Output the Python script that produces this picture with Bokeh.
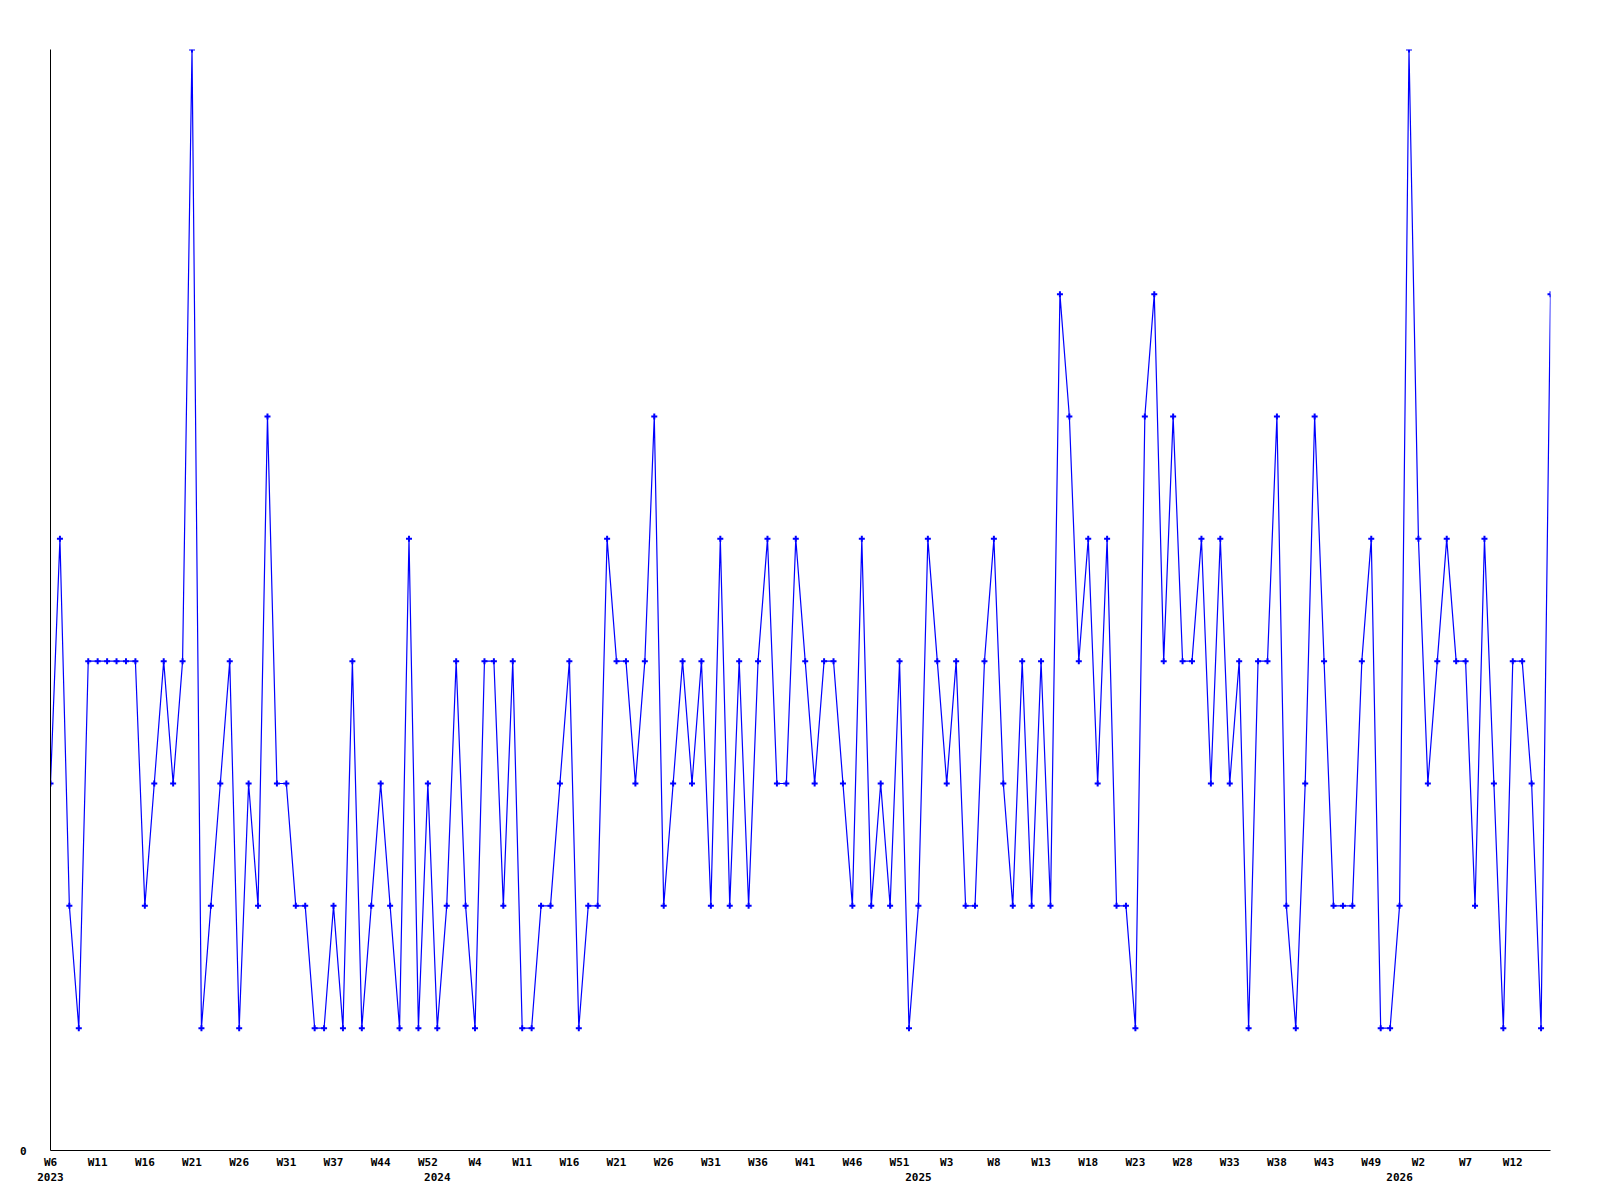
from bokeh.plotting import figure
from bokeh.models import Range1d, LinearAxis, FixedTicker
from bokeh.embed import file_html
from bokeh.resources import INLINE

values = [3, 5, 2, 1, 4, 4, 4, 4, 4, 4,
          2, 3, 4, 3, 4, 9, 1, 2, 3, 4,
          1, 3, 2, 6, 3, 3, 2, 2, 1, 1,
          2, 1, 4, 1, 2, 3, 2, 1, 5, 1,
          3, 1, 2, 4, 2, 1, 4, 4, 2, 4,
          1, 1, 2, 2, 3, 4, 1, 2, 2, 5,
          4, 4, 3, 4, 6, 2, 3, 4, 3, 4,
          2, 5, 2, 4, 2, 4, 5, 3, 3, 5,
          4, 3, 4, 4, 3, 2, 5, 2, 3, 2,
          4, 1, 2, 5, 4, 3, 4, 2, 2, 4,
          5, 3, 2, 4, 2, 4, 2, 7, 6, 4,
          5, 3, 5, 2, 2, 1, 6, 7, 4, 6,
          4, 4, 5, 3, 5, 3, 4, 1, 4, 4,
          6, 2, 1, 3, 6, 4, 2, 2, 2, 4,
          5, 1, 1, 2, 9, 5, 3, 4, 5, 4,
          4, 2, 5, 3, 1, 4, 4, 3, 1, 7]
x_index = list(range(len(values)))

week_ticks = list(range(0, 160, 5))
week_labels = ["W6", "W11", "W16", "W21", "W26", "W31", "W37", "W44", "W52",
               "W4", "W11", "W16", "W21", "W26", "W31", "W36", "W41", "W46", "W51",
               "W3", "W8", "W13", "W18", "W23", "W28", "W33", "W38", "W43", "W49",
               "W2", "W7", "W12"]
year_ticks = [0, 41, 92, 143]
year_labels = ["2023", "2024", "2025", "2026"]

FONT = "DejaVu Sans Mono"

p = figure(width=1584, height=1195, output_backend="svg", toolbar_location=None,
           x_range=Range1d(0, len(values) - 1), y_range=Range1d(0, 9),
           x_axis_type=None, y_axis_type=None,
           min_border_left=50, min_border_top=49, min_border_right=34, min_border_bottom=45)
p.outline_line_color = None
p.background_fill_color = "white"
p.border_fill_color = "white"

def style(ax, standoff):
    ax.major_tick_line_color = None
    ax.minor_tick_line_color = None
    ax.major_tick_out = 0
    ax.major_tick_in = 0
    ax.major_label_standoff = standoff
    ax.major_label_text_font = FONT
    ax.major_label_text_font_style = "bold"
    ax.major_label_text_font_size = "11px"
    ax.major_label_text_color = "black"

yaxis = LinearAxis(ticker=FixedTicker(ticks=[0]))
style(yaxis, 24)
yaxis.axis_line_color = "black"
p.add_layout(yaxis, "left")

xaxis = LinearAxis(ticker=FixedTicker(ticks=week_ticks),
                   major_label_overrides={t: l for t, l in zip(week_ticks, week_labels)})
style(xaxis, 5)
xaxis.axis_line_color = "black"
p.add_layout(xaxis, "below")

yraxis = LinearAxis(ticker=FixedTicker(ticks=year_ticks),
                    major_label_overrides={t: l for t, l in zip(year_ticks, year_labels)})
style(yraxis, 1)
yraxis.axis_line_color = None
p.add_layout(yraxis, "below")

p.line(x_index, values, line_color="#0000FF", line_width=1.2)
p.scatter(x_index, values, marker="cross", size=6, line_color="#0000FF", line_width=2)

open("out.html", "w").write(file_html(p, INLINE))
